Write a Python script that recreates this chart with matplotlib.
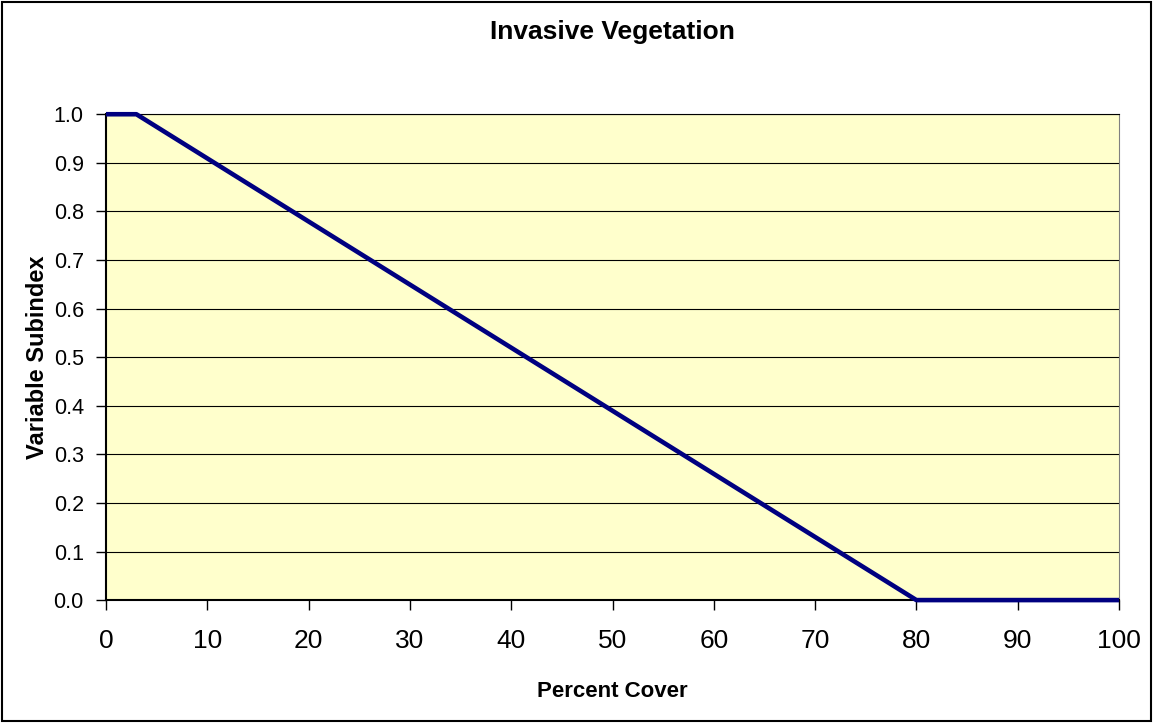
import matplotlib
matplotlib.use("Agg")
import matplotlib.pyplot as plt
from matplotlib.patches import Rectangle

# data
percent_cover = [0, 3, 80, 100]
subindex = [1.0, 1.0, 0.0, 0.0]
x_ticks = [0, 10, 20, 30, 40, 50, 60, 70, 80, 90, 100]
y_ticks = [0.0, 0.1, 0.2, 0.3, 0.4, 0.5, 0.6, 0.7, 0.8, 0.9, 1.0]

plt.rcParams["font.family"] = ["Liberation Sans", "DejaVu Sans"]

fig = plt.figure(figsize=(11.56, 7.23), dpi=100)
ax = fig.add_axes([0.0917, 0.170, 0.8763, 0.672])

ax.set_facecolor("#FFFFCC")
ax.plot(percent_cover, subindex, color="#000080", linewidth=3.3, solid_capstyle="butt", zorder=3, clip_on=False)

ax.set_xlim(0, 100)
ax.set_ylim(0, 1.0)
ax.set_xticks(x_ticks)
ax.set_yticks(y_ticks)
ax.set_xticklabels([str(t) for t in x_ticks], fontsize=19)
ax.set_yticklabels([f"{t:.1f}" for t in y_ticks], fontsize=15.5)
ax.tick_params(direction="out", length=7, width=1, color="black")
ax.tick_params(axis="x", pad=14)
ax.tick_params(axis="y", pad=9)
ax.grid(axis="y", color="black", linewidth=0.8)
ax.set_axisbelow(True)

for side in ["left", "bottom"]:
    ax.spines[side].set_linewidth(1.5)
    ax.spines[side].set_color("black")
ax.spines["top"].set_linewidth(0.8)
ax.spines["right"].set_linewidth(0.8)
ax.spines["right"].set_color("#808080")

fig.text(0.5 * (0.0917 * 2 + 0.8763), 1 - 32 / 723, "Invasive Vegetation",
         fontsize=19, fontweight="bold", ha="center", va="center")
ax.set_xlabel("Percent Cover", fontsize=16, fontweight="bold", labelpad=20)
ax.set_ylabel("Variable Subindex", fontsize=17, fontweight="bold", labelpad=3)

# chart border
fig.patches.append(Rectangle((0.002, 0.003), 0.994, 0.994, transform=fig.transFigure,
                             fill=False, edgecolor="black", linewidth=1.5))

fig.savefig("out.png", dpi=100)
